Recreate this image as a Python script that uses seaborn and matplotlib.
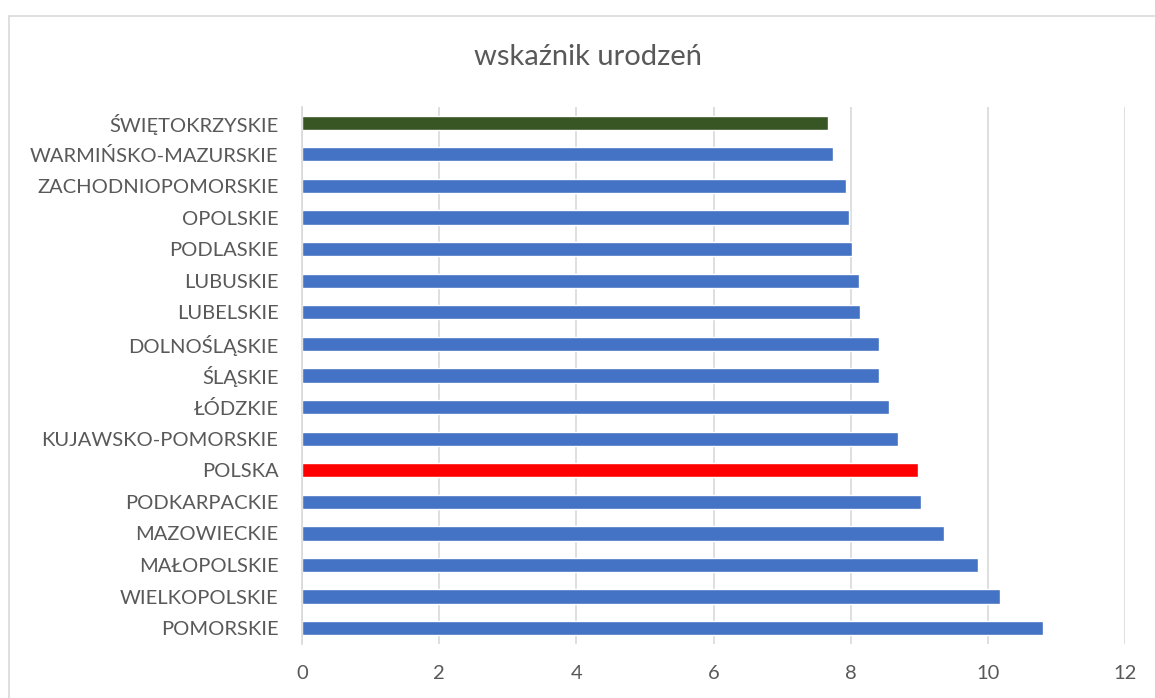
import matplotlib
matplotlib.use("Agg")
import matplotlib.pyplot as plt
import seaborn as sns
import pandas as pd
from matplotlib.patches import Rectangle

# Data (top to bottom)
regions = ["ŚWIĘTOKRZYSKIE", "WARMIŃSKO-MAZURSKIE", "ZACHODNIOPOMORSKIE", "OPOLSKIE",
           "PODLASKIE", "LUBUSKIE", "LUBELSKIE", "DOLNOŚLĄSKIE", "ŚLĄSKIE", "ŁÓDZKIE",
           "KUJAWSKO-POMORSKIE", "POLSKA", "PODKARPACKIE", "MAZOWIECKIE", "MAŁOPOLSKIE",
           "WIELKOPOLSKIE", "POMORSKIE"]
values = [7.67, 7.74, 7.93, 7.98, 8.02, 8.12, 8.14, 8.41, 8.42, 8.56,
          8.69, 8.98, 9.02, 9.36, 9.85, 10.18, 10.80]
x_ticks = [0, 2, 4, 6, 8, 10, 12]

blue = "#4472c4"
colors = {r: blue for r in regions}
colors["ŚWIĘTOKRZYSKIE"] = "#375623"
colors["POLSKA"] = "#ff0000"

df = pd.DataFrame({"region": regions, "value": values})

sns.set_style("white")
plt.rcParams["font.family"] = ["Lato", "DejaVu Sans"]
text_col = "#595959"

fig = plt.figure(figsize=(11.55, 6.98), dpi=100)
ax = fig.add_axes([0.2615, 0.0774, 0.7125, 0.7693])

sns.barplot(data=df, x="value", y="region", hue="region", palette=colors,
            order=regions, width=0.45, legend=False, ax=ax, saturation=1)

ax.set_xlim(0, 12)
ax.set_ylim(16.5, -0.5)
ax.set_xticks(x_ticks)
ax.set_xticklabels([str(t) for t in x_ticks])
ax.set_xlabel("")
ax.set_ylabel("")
ax.grid(axis="x", color="#d9d9d9", linewidth=1.2)
ax.set_axisbelow(True)
for s in ["top", "right", "bottom"]:
    ax.spines[s].set_visible(False)
ax.spines["left"].set_color("#d9d9d9")
ax.spines["left"].set_linewidth(1.2)
ax.tick_params(axis="both", length=0, labelsize=14.5, colors=text_col)
ax.tick_params(axis="y", pad=17)
ax.tick_params(axis="x", pad=15)

fig.text(0.509, 0.918, "wskaźnik urodzeń", ha="center", va="center",
         fontsize=21, color=text_col)

# chart-area border (left and top edges visible)
fig.patches.append(Rectangle((9 / 1155, -0.05), 1.2, 1.05 - 16 / 698,
                             transform=fig.transFigure, fill=False,
                             edgecolor="#d9d9d9", linewidth=1.2))

fig.savefig("out.png", dpi=100)
